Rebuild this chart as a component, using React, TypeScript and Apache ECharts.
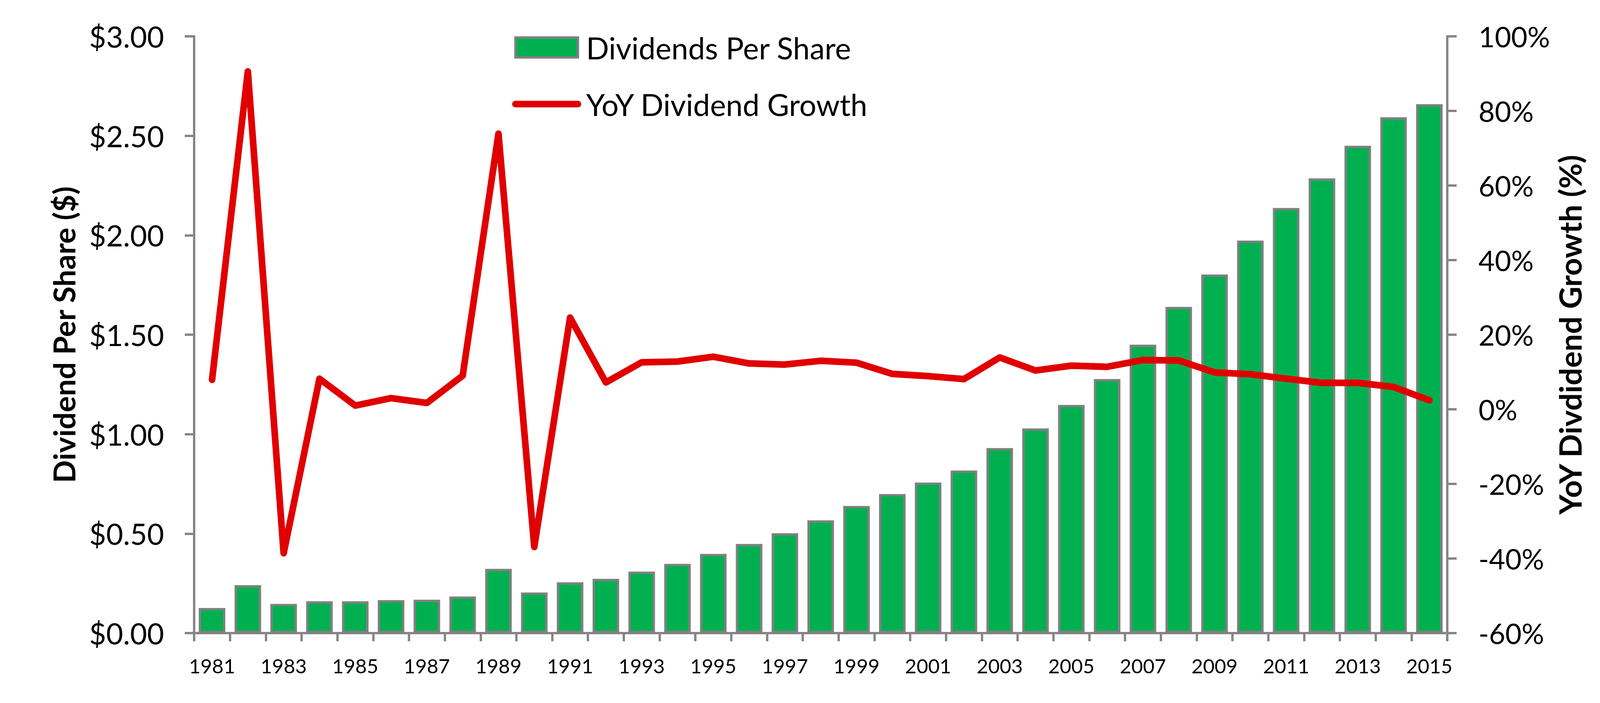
import { useEffect, useRef } from 'react';
import * as echarts from 'echarts';

const years = [
  '1981', '1982', '1983', '1984', '1985', '1986', '1987', '1988', '1989', '1990',
  '1991', '1992', '1993', '1994', '1995', '1996', '1997', '1998', '1999', '2000',
  '2001', '2002', '2003', '2004', '2005', '2006', '2007', '2008', '2009', '2010',
  '2011', '2012', '2013', '2014', '2015',
];

// dividends per share, $
const dividends = [
  0.126, 0.241, 0.147, 0.16, 0.16, 0.166, 0.168, 0.184, 0.323, 0.204,
  0.255, 0.273, 0.309, 0.348, 0.398, 0.448, 0.502, 0.567, 0.639, 0.699,
  0.757, 0.817, 0.93, 1.029, 1.147, 1.277, 1.45, 1.64, 1.803, 1.973,
  2.137, 2.286, 2.45, 2.593, 2.659,
];

// year over year growth, %
const growth = [
  7.9, 90.6, -38.6, 8.2, 1.0, 3.0, 1.7, 9.0, 73.9, -36.9,
  24.6, 7.2, 12.6, 12.8, 14.1, 12.3, 12.0, 13.0, 12.5, 9.5,
  8.9, 8.1, 13.9, 10.4, 11.7, 11.4, 13.2, 13.1, 9.9, 9.4,
  8.2, 7.1, 7.1, 6.0, 2.4,
];

const FONT = 'Lato';
const AXIS_GREY = '#868686';
const GREEN = '#00B050';
const RED = '#E00000';

export default function App() {
  const ref = useRef<HTMLDivElement>(null);

  useEffect(() => {
    document.body.style.margin = '0';
    if (!ref.current) return;
    const chart = echarts.init(ref.current, null, { renderer: 'svg' });

    const axisLine = { show: true, lineStyle: { color: AXIS_GREY, width: 6 } };
    const axisTick = { show: true, length: 24, lineStyle: { color: AXIS_GREY, width: 6 } };

    chart.setOption({
      animation: false,
      backgroundColor: '#ffffff',
      textStyle: { fontFamily: FONT, color: '#000' },
      grid: { left: 497, right: 495, top: 93, bottom: 179 },
      legend: {
        orient: 'vertical',
        left: 1306,
        top: 78,
        itemWidth: 160,
        itemHeight: 51,
        itemGap: 68,
        textStyle: { fontFamily: FONT, fontSize: 77, color: '#000', padding: [0, 0, 0, 16] },
        data: [
          {
            name: 'Dividends Per Share',
            icon: 'rect',
            itemStyle: { color: GREEN, borderColor: '#808080', borderWidth: 6 },
          },
          {
            name: 'YoY Dividend Growth',
            lineStyle: { color: RED, width: 17, cap: 'round' },
            itemStyle: { opacity: 0 },
          },
        ],
      },
      xAxis: {
        type: 'category',
        data: years,
        axisLine,
        axisTick: { ...axisTick, length: 21, interval: 0 },
        axisLabel: { interval: 1, fontFamily: FONT, fontSize: 51, color: '#000', margin: 58 },
        splitLine: { show: false },
      },
      yAxis: [
        {
          type: 'value',
          min: 0,
          max: 3,
          interval: 0.5,
          position: 'left',
          axisLine,
          axisTick,
          splitLine: { show: false },
          axisLabel: {
            fontFamily: FONT,
            fontSize: 75,
            color: '#000',
            margin: 77,
            formatter: (v: number) => '$' + v.toFixed(2),
          },
          name: 'Dividend Per Share ($)',
          nameLocation: 'middle',
          nameGap: 296,
          nameTextStyle: { fontFamily: FONT, fontSize: 77, fontWeight: 'bold', color: '#000' },
        },
        {
          type: 'value',
          min: -60,
          max: 100,
          interval: 20,
          position: 'right',
          axisLine,
          axisTick,
          splitLine: { show: false },
          axisLabel: {
            fontFamily: FONT,
            fontSize: 72,
            color: '#000',
            margin: 80,
            formatter: (v: number) => v + '%',
          },
          name: 'YoY Divdidend Growth (%)',
          nameLocation: 'middle',
          nameGap: 252,
          nameRotate: 90,
          nameTextStyle: { fontFamily: FONT, fontSize: 79, fontWeight: 'bold', color: '#000' },
        },
      ],
      series: [
        {
          name: 'Dividends Per Share',
          type: 'bar',
          data: dividends,
          barWidth: 68,
          itemStyle: { color: GREEN, borderColor: '#808080', borderWidth: 6 },
        },
        {
          name: 'YoY Dividend Growth',
          type: 'line',
          yAxisIndex: 1,
          data: growth,
          symbol: 'none',
          lineStyle: { color: RED, width: 17, cap: 'round', join: 'round' },
          itemStyle: { color: RED },
          z: 3,
        },
      ],
    });

    return () => chart.dispose();
  }, []);

  return <div ref={ref} style={{ width: 4200, height: 1800 }} />;
}
